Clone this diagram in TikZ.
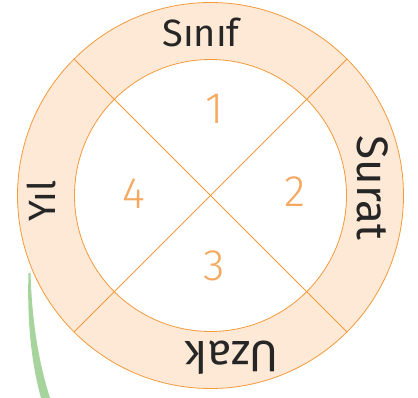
\documentclass[tikz,border=0pt]{standalone}
\usepackage{fontspec}
\setmainfont{Fira Sans}
\newfontfamily\numfont{Fira Sans Light}
\begin{document}
\begin{tikzpicture}[x=1pt,y=-1pt,
  ringline/.style={draw=orangeline, line width=0.8pt},
  numlabel/.style={text=orangenum, font=\numfont\fontsize{44}{44}\selectfont},
  wordlabel/.style={text=black!85, font=\fontsize{38}{38}\selectfont},
  bigword/.style={wordlabel, font=\fontsize{44}{44}\selectfont}]
\definecolor{orangeline}{HTML}{F39A3B}
\definecolor{ringfill}{HTML}{FEE9D6}
\definecolor{orangenum}{HTML}{F5A860}
\definecolor{arrowgreen}{HTML}{A6D49C}
\useasboundingbox (0,0) rectangle (418,398);
\coordinate (c) at (210.5,195.5);
% ring
\fill[ringfill, even odd rule] (c) circle[radius=193] (c) circle[radius=136];
\draw[ringline] (c) circle[radius=193];
\draw[ringline] (c) circle[radius=136];
\path (c) ++(-136.5,-136.5) coordinate (p1) (c) ++(136.5,136.5) coordinate (p2)
      (c) ++(136.5,-136.5) coordinate (p3) (c) ++(-136.5,136.5) coordinate (p4);
\draw[ringline] (p1) -- (p2);
\draw[ringline] (p3) -- (p4);
% numbers
\node[numlabel] (n1) at (215,109) {1};
\node[numlabel] (n2) at (295,192) {2};
\node[numlabel] (n3) at (214,266) {3};
\node[numlabel] (n4) at (134,194) {4};
% words
\node[wordlabel] (w1) at (201,32) {Sınıf};
\node[bigword, rotate=-90] (w2) at (373,188) {Surat};
\node[bigword, rotate=180] (w3) at (232,358) {Uzak};
\node[wordlabel, rotate=90] (w4) at (41,201) {Yıl};
% green arrow
\fill[arrowgreen] (28.5,273) .. controls (27,320) and (31,362) .. (41,398)
  -- (50,398) .. controls (38,360) and (32,320) .. (30.5,273) -- cycle;
\end{tikzpicture}
\end{document}
